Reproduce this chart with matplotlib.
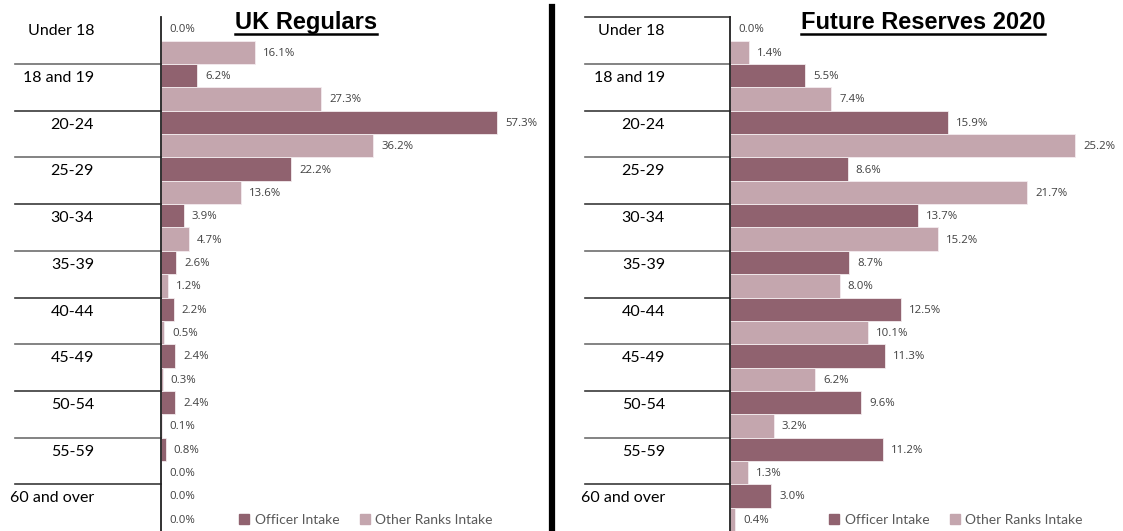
import numpy as np
import matplotlib
matplotlib.use("Agg")
import matplotlib.pyplot as plt
from matplotlib.transforms import blended_transform_factory
from matplotlib.patches import Patch
from matplotlib.lines import Line2D

# data
age_groups = ["Under 18", "18 and 19", "20-24", "25-29", "30-34", "35-39",
              "40-44", "45-49", "50-54", "55-59", "60 and over"]
uk_officer = [0.0, 6.2, 57.3, 22.2, 3.9, 2.6, 2.2, 2.4, 2.4, 0.8, 0.0]
uk_other = [16.1, 27.3, 36.2, 13.6, 4.7, 1.2, 0.5, 0.3, 0.1, 0.0, 0.0]
fr_officer = [0.0, 5.5, 15.9, 8.6, 13.7, 8.7, 12.5, 11.3, 9.6, 11.2, 3.0]
fr_other = [1.4, 7.4, 25.2, 21.7, 15.2, 8.0, 10.1, 6.2, 3.2, 1.3, 0.4]
series_names = ["Officer Intake", "Other Ranks Intake"]

C_OFF = "#90626F"
C_OTH = "#C4A6AE"
W, H = 1123, 531

fig = plt.figure(figsize=(W / 100, H / 100), dpi=100)
fig.patch.set_facecolor("white")

top_px = 17.3
ax_top = 1 - top_px / H


def panel(x0, x1, xmax, officer, other, label_right, line_left, title, title_x, leg_x, top_line):
    ax = fig.add_axes([x0 / W, 0, (x1 - x0) / W, ax_top])
    n = len(age_groups)
    y = np.arange(n)
    ax.barh(y + 0.25, officer, height=0.5, color=C_OFF, edgecolor="#f3ebee", linewidth=0.6)
    ax.barh(y + 0.75, other, height=0.5, color=C_OTH, edgecolor="#f3ebee", linewidth=0.6)
    ax.set_ylim(n, 0)
    ax.set_xlim(0, xmax)
    for s in ["top", "right", "bottom"]:
        ax.spines[s].set_visible(False)
    ax.spines["left"].set_color("#222")
    ax.spines["left"].set_linewidth(1.3)
    ax.set_xticks([])
    ax.set_yticks([])
    off = xmax * 8.0 / (x1 - x0)
    for i in range(n):
        ax.text(officer[i] + off, i + 0.27, f"{officer[i]:.1f}%", fontsize=8.2,
                color="#404040", va="center", ha="left", family="Open Sans")
        ax.text(other[i] + off, i + 0.77, f"{other[i]:.1f}%", fontsize=8.2,
                color="#404040", va="center", ha="left", family="Open Sans")
    tr = blended_transform_factory(fig.transFigure, ax.transData)
    for i in range(n):
        ax.text(label_right / W, i + 0.3, age_groups[i], transform=tr, fontsize=11.5,
                ha="right", va="center", family="Lato", color="black")
    starts = range(0, n) if top_line else range(1, n)
    for i in starts:
        ax.add_line(Line2D([line_left / W, x0 / W], [i, i], transform=tr,
                           color="#3a3a3a" if i % 2 == 0 else "#6e6e6e",
                           lw=1.2, clip_on=False))
    t = fig.text(title_x / W, 1 - 29 / H, title, fontsize=17, fontweight="bold",
                 ha="center", va="baseline", family="Liberation Sans")
    fig.canvas.draw()
    bb = t.get_window_extent()
    fig.add_artist(Line2D([bb.x0 / W, bb.x1 / W], [1 - 33.5 / H, 1 - 33.5 / H],
                          transform=fig.transFigure, color="black", lw=1.8))
    handles = [Patch(color=C_OFF), Patch(color=C_OTH)]
    fig.legend(handles, series_names, loc="center", bbox_to_anchor=(leg_x / W, 1 - 520 / H),
               ncol=2, frameon=False, handlelength=0.7, handleheight=0.7,
               handletextpad=0.4, columnspacing=1.5,
               prop={"family": "Lato", "size": 10}, labelcolor="#595959")
    return ax


panel(161, 545, 384 / 5.864, uk_officer, uk_other, 94, 15, "UK Regulars", 306, 366, False)
panel(730, 1120, 390 / 13.69, fr_officer, fr_other, 665, 585, "Future Reserves 2020", 923, 956, True)

# divider between panels
fig.add_artist(Line2D([552 / W, 552 / W], [0, 1 - 7 / H], transform=fig.transFigure,
                      color="black", lw=4.5))

fig.savefig("out.png", dpi=100, facecolor="white")
